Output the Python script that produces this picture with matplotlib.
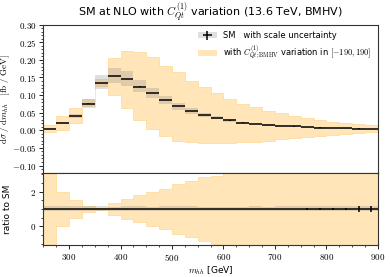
import numpy as np
import matplotlib
matplotlib.use("Agg")
import matplotlib.pyplot as plt
from matplotlib.ticker import MultipleLocator, FuncFormatter
from matplotlib.patches import Patch

plt.rcParams['mathtext.fontset'] = 'cm'
plt.rcParams['font.family'] = ['DejaVu Sans']

# m_hh binning [GeV]
edges = np.arange(250, 901, 25)

# SM central value [fb/GeV]
sm = [0.005, 0.020, 0.041, 0.076, 0.135, 0.154, 0.145, 0.124, 0.105, 0.085,
      0.068, 0.054, 0.043, 0.036, 0.028, 0.022, 0.019, 0.015, 0.013, 0.011,
      0.0088, 0.0077, 0.0068, 0.0055, 0.0048, 0.004]
# MC stat error
sm_stat = [0.0001, 0.0002, 0.0003, 0.0004, 0.0005, 0.0005, 0.0005, 0.0004, 0.0004, 0.0003,
           0.0003, 0.0003, 0.0002, 0.0002, 0.0002, 0.0002, 0.0002, 0.0002, 0.0003, 0.0003,
           0.0004, 0.0004, 0.0003, 0.0003, 0.0007, 0.0006]
# scale uncertainty envelope
scale_up = [0.006, 0.023, 0.047, 0.088, 0.157, 0.176, 0.167, 0.143, 0.120, 0.098,
            0.078, 0.062, 0.049, 0.041, 0.032, 0.025, 0.022, 0.017, 0.015, 0.0127,
            0.0101, 0.0089, 0.0078, 0.0063, 0.0055, 0.0046]
scale_dn = [0.0044, 0.0174, 0.0357, 0.066, 0.116, 0.133, 0.127, 0.108, 0.092, 0.074,
            0.059, 0.047, 0.037, 0.031, 0.024, 0.019, 0.0165, 0.013, 0.0113, 0.0096,
            0.0077, 0.0067, 0.0059, 0.0048, 0.0042, 0.0035]
# C_Qt^(1) variation envelope
var_up = [0.015, 0.040, 0.063, 0.089, 0.146, 0.206, 0.225, 0.221, 0.208, 0.184,
          0.165, 0.141, 0.122, 0.105, 0.088, 0.076, 0.066, 0.056, 0.048, 0.040,
          0.034, 0.029, 0.025, 0.022, 0.019, 0.016]
var_dn = [-0.005, 0.000, 0.020, 0.065, 0.126, 0.101, 0.063, 0.029, 0.003, -0.015,
          -0.029, -0.034, -0.037, -0.037, -0.036, -0.034, -0.032, -0.029, -0.026, -0.023,
          -0.020, -0.017, -0.014, -0.011, -0.008, -0.006]

sm = np.array(sm)
centers = 0.5 * (edges[:-1] + edges[1:])
halfw = 0.5 * np.diff(edges)

def stepfill(ax, lo, hi, **kw):
    lo = np.append(lo, lo[-1])
    hi = np.append(hi, hi[-1])
    ax.fill_between(edges, lo, hi, step='post', **kw)

fig = plt.figure(figsize=(3.9, 2.77), dpi=100)
ax = fig.add_axes([0.111, 0.377, 0.858, 0.534])
rax = fig.add_axes([0.111, 0.114, 0.858, 0.263], sharex=ax)

orange_kw = dict(color='orange', alpha=0.28, linewidth=0.6)
gray_kw = dict(color='gray', alpha=0.25, linewidth=0)

stepfill(ax, np.array(var_dn), np.array(var_up), **orange_kw)
stepfill(ax, np.array(scale_dn), np.array(scale_up), **gray_kw)
ax.errorbar(centers, sm, xerr=halfw, yerr=sm_stat, fmt='none', ecolor='black', elinewidth=1.1)

stepfill(rax, np.array(var_dn) / sm, np.array(var_up) / sm, **orange_kw)
stepfill(rax, np.array(scale_dn) / sm, np.array(scale_up) / sm, **gray_kw)
rax.errorbar(centers, sm / sm, xerr=halfw, yerr=np.array(sm_stat) / sm, fmt='none', ecolor='black', elinewidth=1.1)

ax.set_xlim(250, 900)
ax.set_ylim(-0.12, 0.30)
rax.set_ylim(-1.1, 3.1)

tick_fmt = lambda fmt: FuncFormatter(lambda v, p: '$' + format(v, fmt) + '$')
ax.yaxis.set_major_locator(MultipleLocator(0.05))
ax.yaxis.set_minor_locator(MultipleLocator(0.01))
ax.yaxis.set_major_formatter(tick_fmt('.2f'))
rax.yaxis.set_major_locator(MultipleLocator(2))
rax.yaxis.set_minor_locator(MultipleLocator(0.5))
rax.yaxis.set_major_formatter(tick_fmt('.0f'))
rax.xaxis.set_major_locator(MultipleLocator(100))
rax.xaxis.set_minor_locator(MultipleLocator(25))
rax.xaxis.set_major_formatter(tick_fmt('.0f'))
ax.tick_params(labelbottom=False)
for a in (ax, rax):
    a.tick_params(which='both', labelsize=6.5, direction='out', pad=2)
    a.tick_params(which='major', length=3, width=0.6)
    a.tick_params(which='minor', length=1.5, width=0.5)
    for s in a.spines.values():
        s.set_linewidth(0.8)
        s.set_color('#333333')

ax.set_title(r'SM at NLO with $C_{Qt}^{(1)}$ variation (13.6 TeV, BMHV)', fontsize=8, pad=4)
ax.set_ylabel(r'$\mathrm{d}\sigma\ /\ \mathrm{d}m_{hh}\quad [\mathrm{fb}\ /\ \mathrm{GeV}]$', fontsize=6.5)
rax.set_ylabel('ratio to SM', fontsize=6.5)
rax.set_xlabel(r'$m_{hh}$ [GeV]', fontsize=6.5)
ax.yaxis.set_label_coords(-0.093, 0.5)
rax.yaxis.set_label_coords(-0.093, 0.5)
rax.xaxis.set_label_coords(0.5, -0.26)

sm_handle = (Patch(facecolor='gray', alpha=0.25, linewidth=0),
             ax.errorbar([], [], xerr=[], yerr=[], fmt='none', ecolor='black', elinewidth=1.1))
var_handle = Patch(facecolor='orange', alpha=0.28, linewidth=0)
ax.legend([sm_handle, var_handle],
          ['SM   with scale uncertainty',
           r'with $C_{Qt;\mathrm{BMHV}}^{(1)}$ variation in $[-190, 190]$'],
          loc='upper right', frameon=False, fontsize=6, handlelength=2.2, borderaxespad=0.4)

fig.savefig('out.png', dpi=100)
